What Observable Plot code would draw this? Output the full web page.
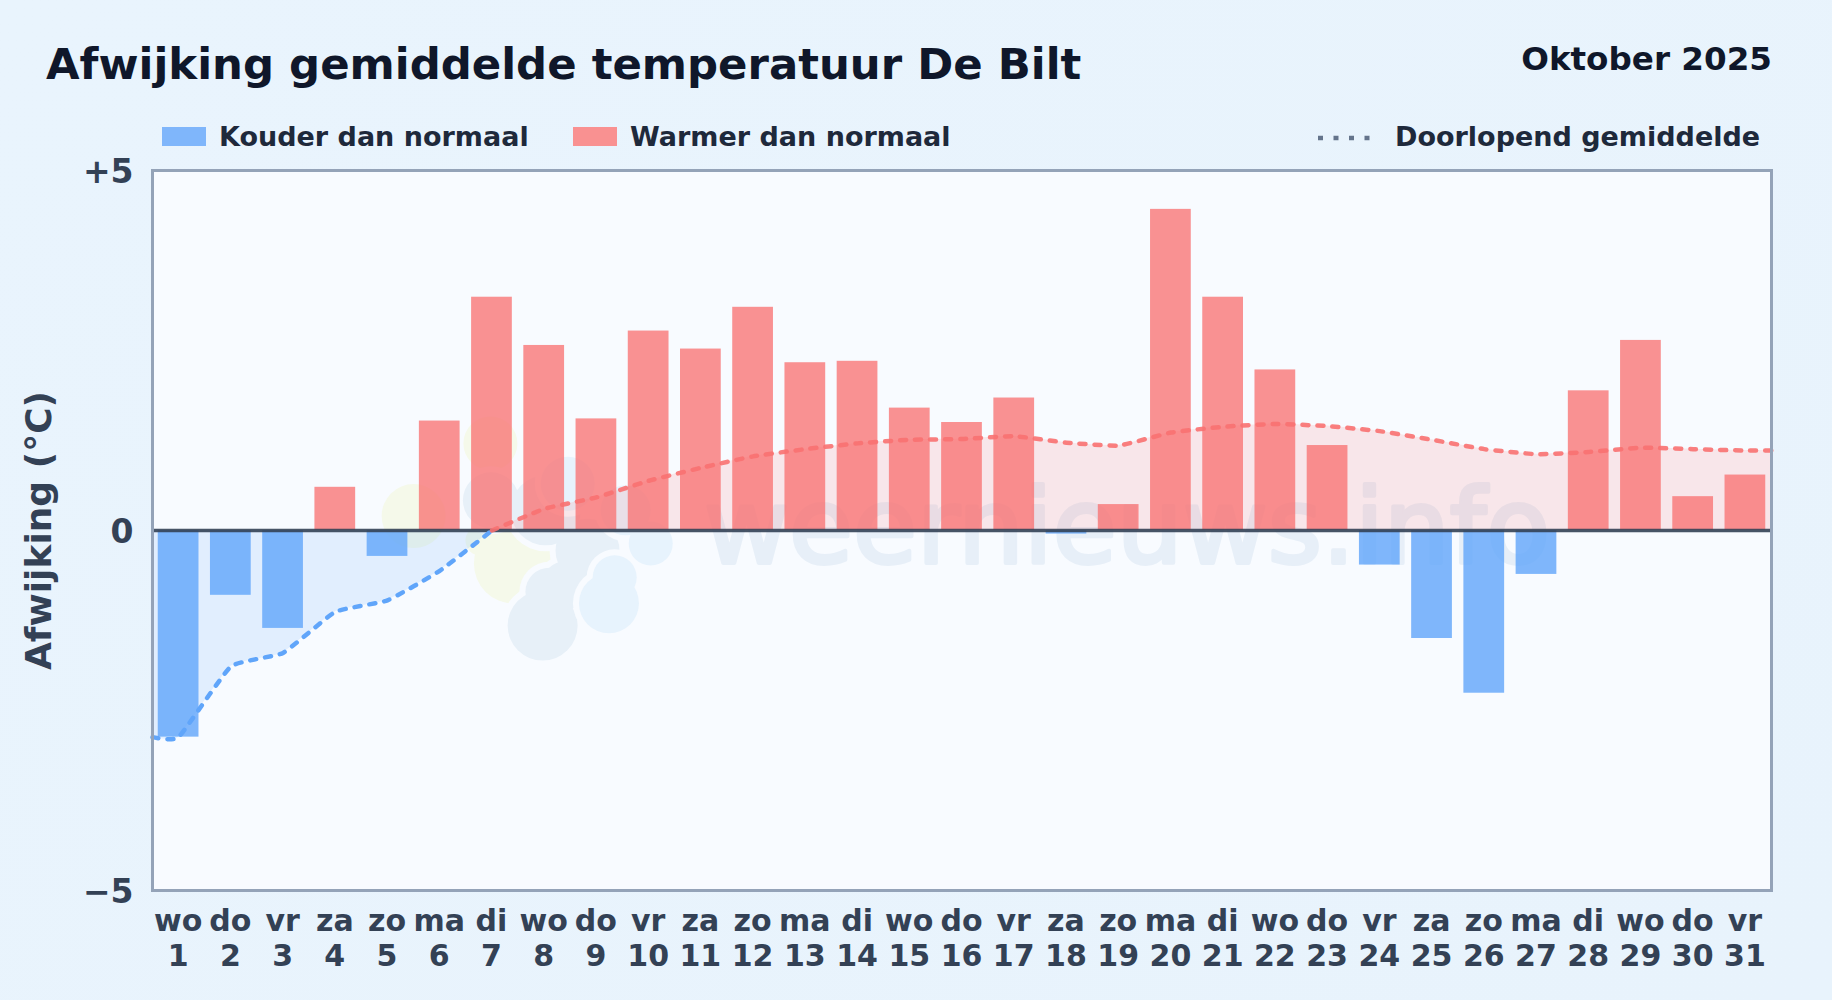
<!DOCTYPE html>
<html><head><meta charset="utf-8">
<script src="https://cdn.jsdelivr.net/npm/d3@7"></script>
<script src="https://cdn.jsdelivr.net/npm/@observablehq/plot@0.6"></script>
<style>
html,body{margin:0;padding:0;width:1832px;height:1000px;overflow:hidden;background:linear-gradient(135deg,#e9f4fd,#e8f3fc);font-family:"DejaVu Sans",sans-serif;font-weight:700}
#wrap{position:relative;width:1832px;height:1000px}
.abs{position:absolute;white-space:nowrap}
#title{left:46px;top:38px;font-size:43.4px;color:#0f172a;line-height:52px}
#month{right:60px;top:40px;font-size:32.6px;color:#0f172a;line-height:38px}
.leg{top:122px;font-size:27px;color:#1e293b;line-height:30px}
.sw{position:absolute;top:127px;width:44px;height:19px}
#plot{position:absolute;left:0;top:150px}
</style></head><body><div id="wrap">
<div id="title" class="abs">Afwijking gemiddelde temperatuur De Bilt</div>
<div id="month" class="abs">Oktober 2025</div>
<div class="sw" style="left:162px;background:#7fb6fb"></div><div class="abs leg" style="left:219px">Kouder dan normaal</div>
<div class="sw" style="left:573px;background:#f99191"></div><div class="abs leg" style="left:630px">Warmer dan normaal</div>
<svg class="abs" style="left:1316px;top:133px" width="60" height="10"><line x1="2" x2="58" y1="5" y2="5" stroke="#64748b" stroke-width="4.5" stroke-dasharray="5 10.5"/></svg>
<div class="abs leg" style="left:1395px">Doorlopend gemiddelde</div>
<div id="plot"></div>
</div>
<script>
const weekdays = ["wo","do","vr","za","zo","ma","di","wo","do","vr","za","zo","ma","di","wo","do","vr","za","zo","ma","di","wo","do","vr","za","zo","ma","di","wo","do","vr"];
const days = d3.range(1, 32);
const deviation = [-2.87,-0.9,-1.36,0.6,-0.36,1.52,3.24,2.57,1.55,2.77,2.52,3.1,2.33,2.35,1.7,1.5,1.84,-0.05,0.36,4.46,3.24,2.23,1.18,-0.48,-1.5,-2.26,-0.61,1.94,2.64,0.47,0.77];
const runningDays = [0.5,1,2,3,4,5,6,7,8,9,10,11,12,13,14,15,16,17,18,19,20,21,22,23,24,25,26,27,28,29,30,31,31.5];
const runningMean = [-2.87,-2.87,-1.89,-1.70,-1.13,-0.97,-0.56,0,0.30,0.46,0.69,0.87,1.03,1.13,1.21,1.26,1.27,1.31,1.22,1.18,1.36,1.44,1.48,1.45,1.38,1.26,1.13,1.06,1.09,1.15,1.13,1.11,1.11];
const bars = days.map((d,i)=>({day:d, v:deviation[i]}));
const running = runningDays.map((d,i)=>({day:d, v:runningMean[i]}));
const below = running.filter(d=>d.day<=7), above = running.filter(d=>d.day>=7);
const blue="#60a5fa", red="#f87171", halfBar=0.39, curve="cardinal", tension=0.6;
const logoYellow = [{x:7.42,y:-0.46,r:40},{x:6.78,y:-0.14,r:15},{x:6.97,y:1.21,r:27},{x:5.5,y:0.2,r:32}];
const logoGrey = [{x:6.98,y:0.42,r:28},{x:7.97,y:-1.32,r:35},{x:8.83,y:-0.28,r:32},{x:8.03,y:0.28,r:35},{x:8.41,y:-0.76,r:24},{x:8.1,y:-0.85,r:24}];
const logoBlue = [{x:9.24,y:-1.01,r:30},{x:10.04,y:-0.18,r:22},{x:8.45,y:0.65,r:27},{x:9.56,y:0.28,r:25},{x:9.35,y:-0.65,r:22}];
const logoLayer = (rows, fill) => [
  Plot.dot(rows,{x:"x",y:"y",r:d=>d.r+6,fill:"#f8fbff"}),
  Plot.dot(rows,{x:"x",y:"y",r:"r",fill})
];
const chart = Plot.plot({
  width:1832,height:850,marginLeft:152,marginRight:61,marginTop:20,marginBottom:110,
  style:{background:"transparent",fontFamily:"DejaVu Sans",fontWeight:700,overflow:"visible"},
  x:{type:"linear",domain:[0.5,31.5],axis:null},
  y:{domain:[-5,5],axis:null},
  r:{type:"identity"},
  marks:[
    Plot.frame({fill:"#f8fbff",stroke:null}),
    Plot.dot(logoYellow,{x:"x",y:"y",r:"r",fill:"#f5f9ea"}),
    ...logoLayer(logoGrey,"#e7f0f8"),
    ...logoLayer(logoBlue,"#e7f3fd"),
    Plot.text(["weernieuws.info"],{frameAnchor:"middle",dx:165,dy:-1,fontSize:104,fill:"#e7eff8",stroke:"#e7eff8",strokeWidth:4,fontWeight:400,lineAnchor:"middle"}),
    Plot.areaY(below,{x:"day",y1:0,y2:"v",fill:blue,fillOpacity:0.15,curve,tension}),
    Plot.areaY(above,{x:"day",y1:0,y2:"v",fill:red,fillOpacity:0.15,curve,tension}),
    Plot.rect(bars,{x1:d=>d.day-halfBar,x2:d=>d.day+halfBar,y1:0,y2:"v",fill:d=>d.v<0?blue:red,fillOpacity:d=>d.v<0?0.8:0.77}),
    Plot.ruleY([0],{stroke:"#334155",strokeWidth:3.6,strokeOpacity:0.9}),
    Plot.line(below,{x:"day",y:"v",stroke:blue,strokeWidth:4.5,strokeDasharray:"6 9",strokeLinecap:"round",curve,tension}),
    Plot.line(above,{x:"day",y:"v",stroke:red,strokeWidth:4.5,strokeDasharray:"6 9",strokeLinecap:"round",curve,tension,strokeOpacity:0.9}),
    Plot.frame({stroke:"#94a3b8",strokeWidth:3}),
    Plot.axisX({ticks:days,tickSize:0,tickPadding:16,dx:-0.5,anchor:"bottom",tickFormat:d=>`${weekdays[d-1]}\n${d}`,fontSize:30,fontWeight:700,fill:"#334155",label:null,lineHeight:1.16}),
    Plot.axisY({ticks:[-5,0,5],tickSize:0,tickPadding:19,dy:1.5,anchor:"left",tickFormat:d=>d>0?"+"+d:d<0?"\u2212"+(-d):"0",fontSize:33,fontWeight:700,fill:"#334155",label:null}),
    Plot.text(["Afwijking (°C)"],{frameAnchor:"left",dx:-113.5,rotate:-90,textAnchor:"middle",fontSize:36,fontWeight:700,fill:"#334155"})
  ]
});
document.getElementById("plot").appendChild(chart);
</script></body></html>
